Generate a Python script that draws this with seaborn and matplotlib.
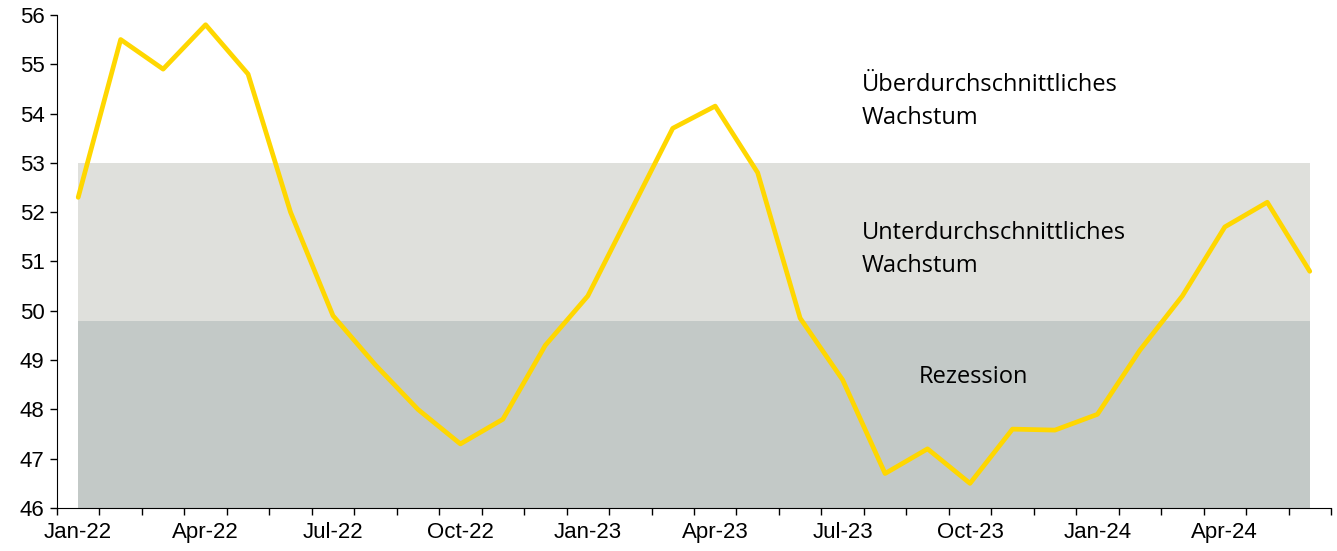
import matplotlib
matplotlib.use("Agg")
import matplotlib.pyplot as plt
import numpy as np
import pandas as pd
import seaborn as sns

# monthly index values, Jan-22 .. Jun-24
months = pd.date_range("2022-01-01", "2024-06-01", freq="MS")
values = [52.3, 55.5, 54.9, 55.8, 54.8, 52.0, 49.9, 48.9, 48.0, 47.3,
          47.8, 49.3, 50.3, 52.0, 53.7, 54.15, 52.8, 49.85, 48.6, 46.7,
          47.2, 46.5, 47.6, 47.58, 47.9, 49.2, 50.3, 51.7, 52.2, 50.8]
tick_labels = [m.strftime("%b-%y") for m in months]

# band limits
recession_top = 49.8
below_avg_top = 53.0
y_min, y_max = 46, 56

df = pd.DataFrame({"pos": np.arange(len(values)), "value": values})

sns.set_style("ticks")
plt.rcParams["font.family"] = ["Liberation Sans", "DejaVu Sans"]
plt.rcParams["text.color"] = "black"
plt.rcParams["xtick.color"] = "black"
plt.rcParams["ytick.color"] = "black"

fig = plt.figure(figsize=(13.37, 5.51), dpi=100)
ax = fig.add_axes([0.0426, 0.078, 0.9529, 0.895])

span = df["pos"].iloc[[0, -1]]
ax.fill_between(span, y_min, recession_top, color="#c3c9c7", lw=0, zorder=0)
ax.fill_between(span, recession_top, below_avg_top, color="#dfe0dc", lw=0,
                zorder=0)

sns.lineplot(data=df, x="pos", y="value", color="#ffd700", linewidth=3.4,
             ax=ax, zorder=3)

ax.set_xlim(-0.5, len(values) - 0.5)
ax.set_ylim(y_min, y_max)
ax.set_yticks(range(y_min, y_max + 1))
ax.set_xticks(np.arange(len(values) + 1) - 0.5)
ax.set_xticklabels([])
ax.set_xticks(df["pos"][::3], minor=True)
ax.set_xticklabels(tick_labels[::3], minor=True)
ax.tick_params(axis="x", which="minor", length=0, labelsize=16, pad=10)
ax.tick_params(axis="x", which="major", length=5, width=1)
ax.tick_params(axis="y", length=5, width=1, labelsize=16, pad=4)
ax.set_xlabel("")
ax.set_ylabel("")
sns.despine(ax=ax)
for s in ("left", "bottom"):
    ax.spines[s].set_color("black")

txt = dict(fontsize=17, family=["Open Sans", "DejaVu Sans"], va="center",
           linespacing=1.5, color="black")
ax.text(18.45, 54.24, "Überdurchschnittliches\nWachstum", **txt)
ax.text(18.45, 51.24, "Unterdurchschnittliches\nWachstum", **txt)
ax.text(19.8, 48.66, "Rezession", **txt)

fig.savefig("out.png", dpi=100)
